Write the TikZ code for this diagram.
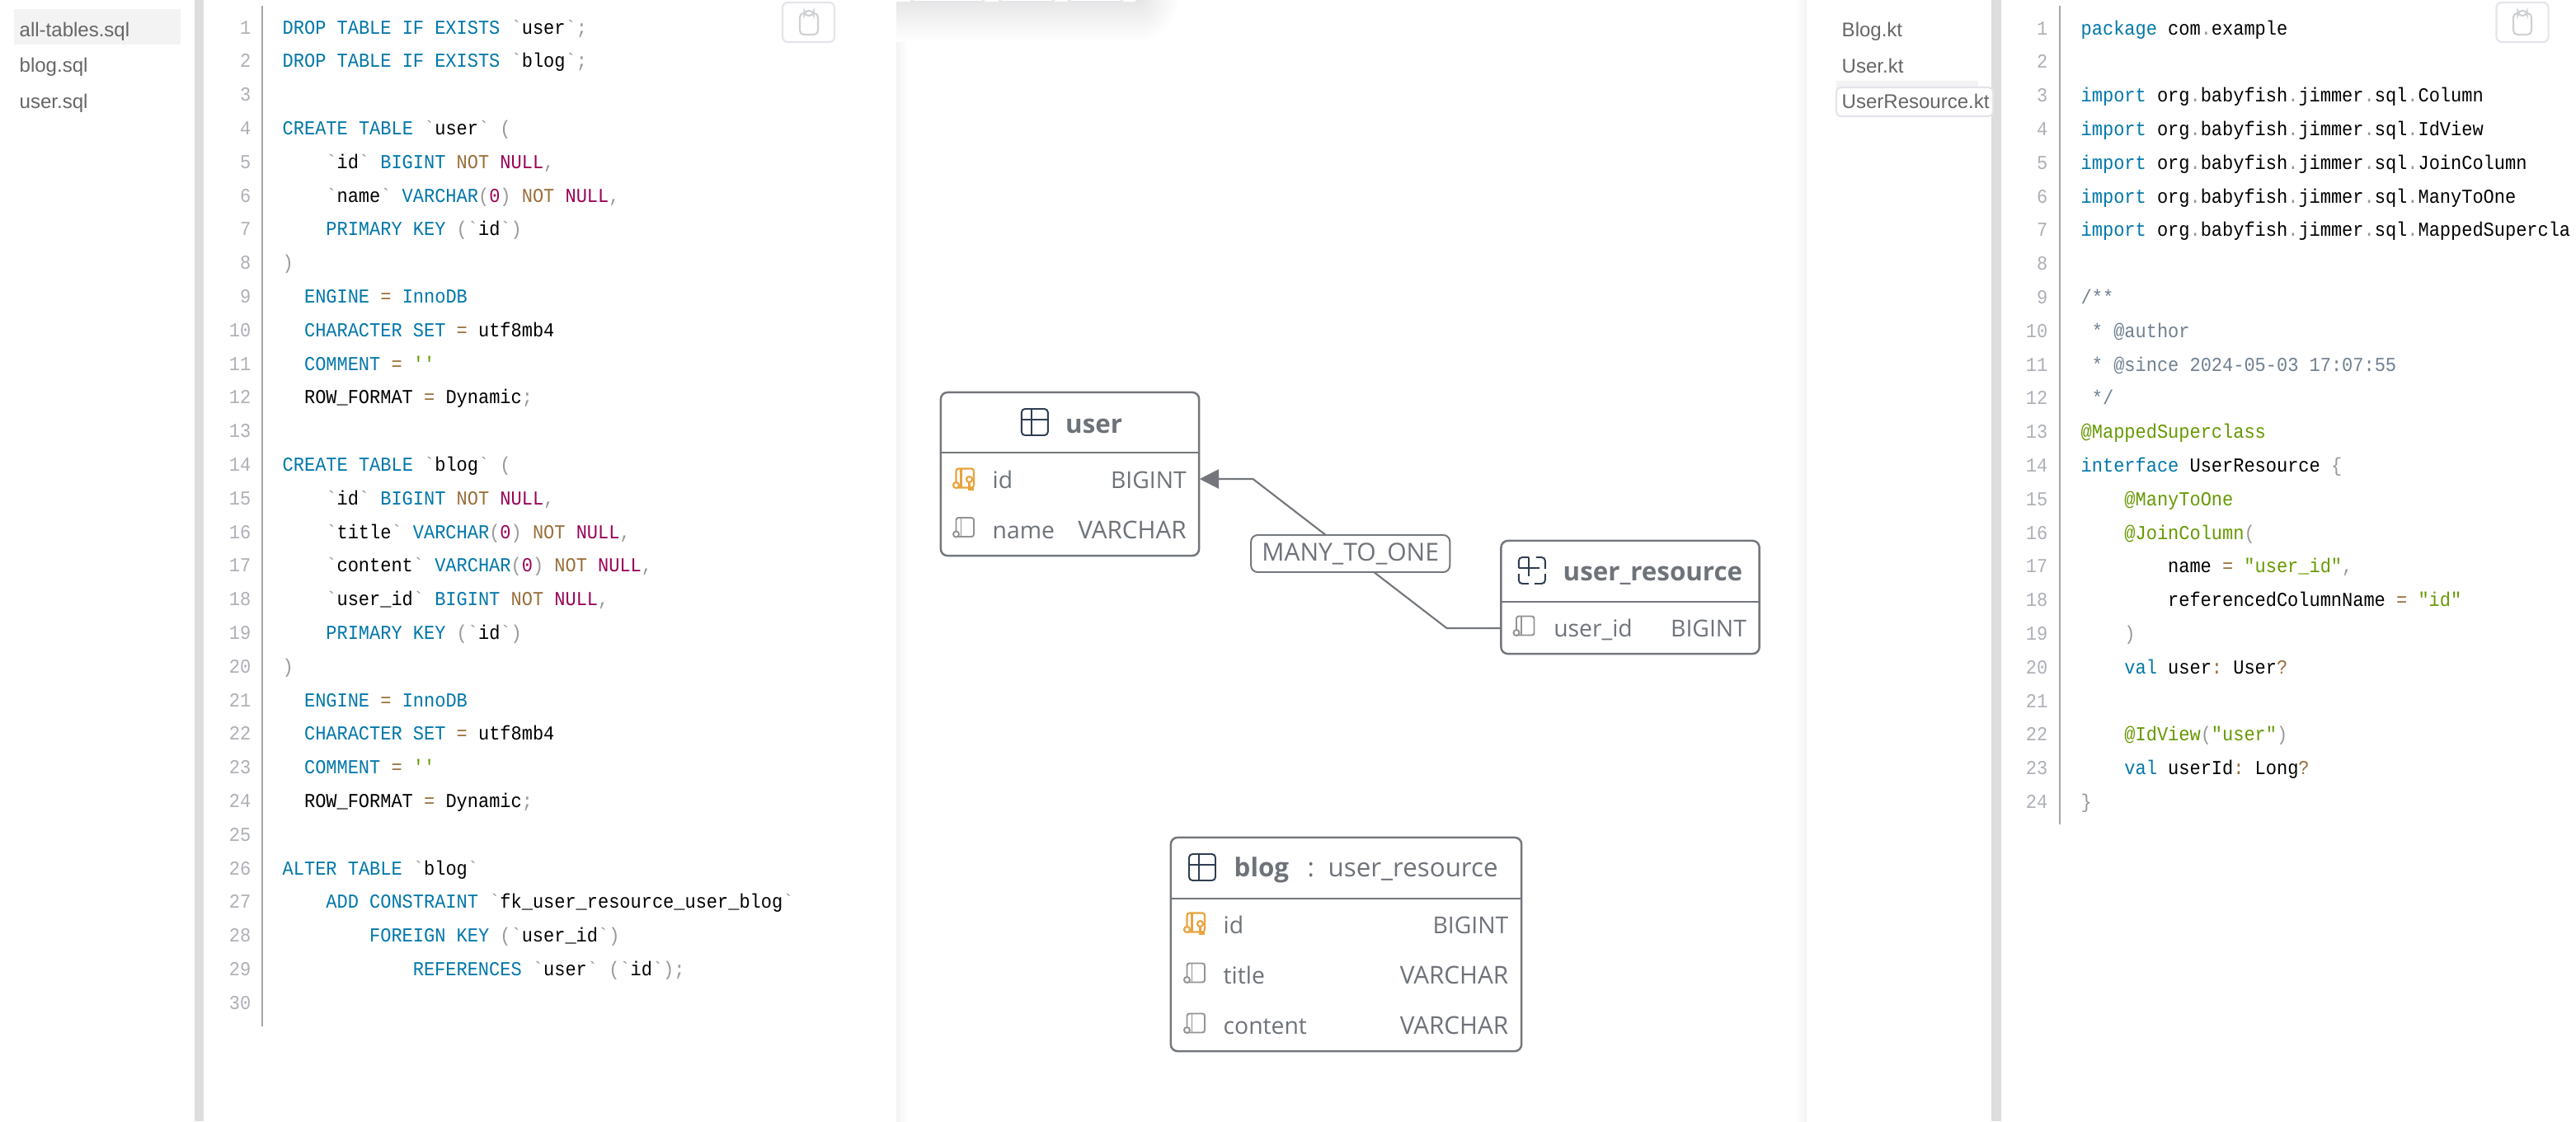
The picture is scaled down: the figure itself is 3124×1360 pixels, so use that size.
\documentclass[tikz,border=0pt]{standalone}
\usepackage{fontspec}
\usepackage{xcolor}
\usetikzlibrary{arrows.meta}
\setmainfont{Open Sans}
\newfontfamily\codefont[FakeStretch=0.915]{Liberation Mono}
\newfontfamily\navfont{Liberation Sans}

\definecolor{kwblue}{HTML}{0077AA}
\definecolor{opbrown}{HTML}{9A6E3A}
\definecolor{nullred}{HTML}{990055}
\definecolor{strgreen}{HTML}{669900}
\definecolor{punctgray}{HTML}{999999}
\definecolor{cmtgray}{HTML}{708090}
\definecolor{lnogray}{HTML}{AEB0B8}
\definecolor{guttergray}{HTML}{A4A6AE}
\definecolor{sepgray}{HTML}{DDDDDD}
\definecolor{panelgray}{HTML}{F3F3F3}
\definecolor{btngray}{HTML}{E4E5EA}
\definecolor{clipgray}{HTML}{CFD0D4}
\definecolor{navtext}{HTML}{666666}
\definecolor{tabletext}{HTML}{6E737A}
\definecolor{tableline}{HTML}{73777C}
\definecolor{iconnavy}{HTML}{2F3D52}
\definecolor{keyorange}{HTML}{E8A33D}

\newcommand{\ckw}[1]{\textcolor{kwblue}{#1}}
\newcommand{\cop}[1]{\textcolor{opbrown}{#1}}
\newcommand{\cnl}[1]{\textcolor{nullred}{#1}}
\newcommand{\cst}[1]{\textcolor{strgreen}{#1}}
\newcommand{\cpn}[1]{\textcolor{punctgray}{#1}}
\newcommand{\ccm}[1]{\textcolor{cmtgray}{#1}}
\newcommand{\bq}[1]{\cpn{`}#1\cpn{`}}
\newcommand{\dt}{\cpn{.}}
\newcommand{\sqlline}[3]{\node[codeline] (sql#1) at ({342+#2*13.18},{41+(#1-1)*40.8}) {#3};}
\newcommand{\ktline}[3]{\node[codeline] (kt#1) at ({2523+#2*13.18},{42+(#1-1)*40.8}) {#3};}

\tikzset{
  codeline/.style={anchor=base west,inner sep=0pt,font=\codefont\fontsize{6.83}{8}\selectfont\frenchspacing},
  lineno/.style={anchor=base east,inner sep=0pt,text=lnogray,font=\codefont\fontsize{6.83}{8}\selectfont},
  navitem/.style={anchor=base west,inner sep=0pt,text=navtext,font=\navfont\fontsize{6.83}{8}\selectfont},
  tablebox/.style={draw=tableline,line width=0.7pt,rounded corners=2.3pt,inner sep=0pt},
  tablerule/.style={draw=tableline,line width=0.7pt},
  tabletitle/.style={anchor=base west,inner sep=0pt,text=tabletext,font=\fontsize{8.9}{10}\selectfont},
  fieldname/.style={anchor=base west,inner sep=0pt,text=tabletext,font=\fontsize{8.05}{9}\selectfont},
  fieldtype/.style={anchor=base east,inner sep=0pt,text=tabletext,font=\fontsize{8.05}{9}\selectfont},
  widetype/.style={fieldtype,font=\fontsize{8.45}{9}\selectfont},
  rowbox/.style={inner sep=0pt,minimum height=0.3cm},
  rellabel/.style={draw=tableline,line width=0.55pt,fill=white,rounded corners=2.3pt,inner sep=0pt,text=tabletext,minimum width=2.41cm,minimum height=0.45cm,font=\fontsize{8.54}{10}\selectfont},
  relline/.style={draw=tableline,line width=0.6pt},
  copybtn/.style={draw=btngray,line width=0.6pt,rounded corners=1.8pt,inner sep=0pt,minimum width=0.63cm,minimum height=0.48cm},
  tableicon/.pic={
    \draw[iconnavy,line width=0.55pt,rounded corners=1.2pt] (-16,-16) rectangle (16,16);
    \draw[iconnavy,line width=0.55pt] (-16,-3) -- (16,-3) (-4,-16) -- (-4,16);
  },
  viewicon/.pic={
    \draw[iconnavy,line width=0.55pt,rounded corners=1.2pt] (-16,-3) -- (-16,-16) -- (-4,-16);
    \draw[iconnavy,line width=0.55pt,rounded corners=1.2pt] (5,-16) -- (16,-16) -- (16,-2);
    \draw[iconnavy,line width=0.55pt,rounded corners=1.2pt] (16,4) -- (16,16) -- (3,16);
    \draw[iconnavy,line width=0.55pt,rounded corners=1.2pt] (-4,16) -- (-16,16) -- (-16,4);
    \draw[iconnavy,line width=0.55pt] (-16,-3) -- (9,-3) (-4,-16) -- (-4,7);
  },
  fieldicon/.pic={
    \draw[gray!85,line width=0.55pt,rounded corners=0.8pt] (-9,-12) rectangle (12.5,11);
    \draw[gray!85,line width=0.55pt] (-3,-12) -- (-3,11);
    \draw[gray!85,line width=0.55pt,fill=white] (-9,8) circle (3.5);
  },
  keyicon/.pic={
    \draw[keyorange,line width=0.6pt,rounded corners=0.8pt] (-9,-12) rectangle (12.5,11);
    \draw[keyorange,line width=0.6pt] (-3,-12) -- (-3,11);
    \draw[keyorange,line width=0.6pt,fill=white] (-9,8) circle (3.5);
    \draw[keyorange,line width=0.6pt,fill=white] (7,1) circle (3.5);
    \draw[keyorange,line width=0.6pt] (7,4.5) -- (7,13) -- (12,13);
  },
  clipicon/.pic={
    \draw[clipgray,line width=0.6pt,rounded corners=1.4pt] (-11,-12) rectangle (11,14);
    \draw[clipgray,line width=0.6pt,fill=white,rounded corners=1.4pt] (-5.5,-15) rectangle (5.5,-9);
  }
}

\begin{document}
\begin{tikzpicture}[x=0.01cm,y=-0.01cm]
    \useasboundingbox (0,0) rectangle (3124,1360);
    \clip (0,0) rectangle (3124,1360);
    \fill[white] (0,0) rectangle (3124,1360);

    % panel separators and edges
    \fill[sepgray] (236,0) rectangle (247,1360);
    \fill[sepgray] (2415,0) rectangle (2427,1360);
    \shade[left color=panelgray,right color=white] (1087,0) rectangle (1100,1360);
    \shade[left color=white,right color=panelgray] (2178,0) rectangle (2191,1360);

    % shadow under the hidden toolbar
    \shade[top color=black!10,bottom color=white] (1087,0) rectangle (1380,50);
    \begin{scope}
        \clip (1380,0) rectangle (1430,50);
        \shade[inner color=black!10,outer color=white] (1380,0) circle (50);
    \end{scope}
    \fill[white] (1087,0) rectangle (1377,2);
    \draw[btngray,fill=white,line width=0.5pt,rounded corners=1.5pt] (1103,-10) rectangle (1195,2);
    \draw[btngray,fill=white,line width=0.5pt,rounded corners=1.5pt] (1210,-10) rectangle (1280,2);
    \draw[btngray,fill=white,line width=0.5pt,rounded corners=1.5pt] (1294,-10) rectangle (1363,2);

    % left file list
    \fill[panelgray] (17,11) rectangle (219,54);
    \node[navitem] (navall) at (23,44) {all-tables.sql};
    \node[navitem] (navblog) at (23,87) {blog.sql};
    \node[navitem] (navuser) at (23,131) {user.sql};

    % sql code
    \draw[guttergray,line width=0.55pt] (318,7) -- (318,1245);
    \foreach \n in {1,...,30}
        \node[lineno] (sqlno\n) at (305,{41+(\n-1)*40.8}) {\n};
    \sqlline{1}{0}{\ckw{DROP TABLE IF EXISTS} \bq{user}\cpn{;}}
    \sqlline{2}{0}{\ckw{DROP TABLE IF EXISTS} \bq{blog}\cpn{;}}
    \sqlline{4}{0}{\ckw{CREATE TABLE} \bq{user} \cpn{(}}
    \sqlline{5}{4}{\bq{id} \ckw{BIGINT} \cop{NOT} \cnl{NULL}\cpn{,}}
    \sqlline{6}{4}{\bq{name} \ckw{VARCHAR}\cpn{(}\cnl{0}\cpn{)} \cop{NOT} \cnl{NULL}\cpn{,}}
    \sqlline{7}{4}{\ckw{PRIMARY KEY} \cpn{(}\bq{id}\cpn{)}}
    \sqlline{8}{0}{\cpn{)}}
    \sqlline{9}{2}{\ckw{ENGINE} \cop{=} \ckw{InnoDB}}
    \sqlline{10}{2}{\ckw{CHARACTER SET} \cop{=} utf8mb4}
    \sqlline{11}{2}{\ckw{COMMENT} \cop{=} \cst{''}}
    \sqlline{12}{2}{ROW\_FORMAT \cop{=} Dynamic\cpn{;}}
    \sqlline{14}{0}{\ckw{CREATE TABLE} \bq{blog} \cpn{(}}
    \sqlline{15}{4}{\bq{id} \ckw{BIGINT} \cop{NOT} \cnl{NULL}\cpn{,}}
    \sqlline{16}{4}{\bq{title} \ckw{VARCHAR}\cpn{(}\cnl{0}\cpn{)} \cop{NOT} \cnl{NULL}\cpn{,}}
    \sqlline{17}{4}{\bq{content} \ckw{VARCHAR}\cpn{(}\cnl{0}\cpn{)} \cop{NOT} \cnl{NULL}\cpn{,}}
    \sqlline{18}{4}{\bq{user\_id} \ckw{BIGINT} \cop{NOT} \cnl{NULL}\cpn{,}}
    \sqlline{19}{4}{\ckw{PRIMARY KEY} \cpn{(}\bq{id}\cpn{)}}
    \sqlline{20}{0}{\cpn{)}}
    \sqlline{21}{2}{\ckw{ENGINE} \cop{=} \ckw{InnoDB}}
    \sqlline{22}{2}{\ckw{CHARACTER SET} \cop{=} utf8mb4}
    \sqlline{23}{2}{\ckw{COMMENT} \cop{=} \cst{''}}
    \sqlline{24}{2}{ROW\_FORMAT \cop{=} Dynamic\cpn{;}}
    \sqlline{26}{0}{\ckw{ALTER TABLE} \bq{blog}}
    \sqlline{27}{4}{\ckw{ADD CONSTRAINT} \bq{fk\_user\_resource\_user\_blog}}
    \sqlline{28}{8}{\ckw{FOREIGN KEY} \cpn{(}\bq{user\_id}\cpn{)}}
    \sqlline{29}{12}{\ckw{REFERENCES} \bq{user} \cpn{(}\bq{id}\cpn{)}\cpn{;}}
    \node[copybtn] (copysql) at (980.5,27) {};
    \pic at (981,28) {clipicon};

    % user table
    \node[tablebox,minimum width=3.13cm,minimum height=1.98cm] (userbox) at (1297.5,575) {};
    \draw[tablerule] (userbox.west |- 0,549) -- (userbox.east |- 0,549);
    \pic at (1254.8,512) {tableicon};
    \node[tabletitle] (usertitle) at (1291.5,525) {\textbf{user}};
    \node[rowbox,minimum width=3.13cm] (userrowid) at (1297.5,581) {};
    \pic at (1168.5,580.5) {keyicon};
    \node[fieldname] (useridname) at (1203,592) {id};
    \node[fieldtype] (useridtype) at (1439.5,592) {BIGINT};
    \pic at (1168.5,640) {fieldicon};
    \node[fieldname] (usernamename) at (1203,653) {name};
    \node[widetype] (usernametype) at (1439.5,653) {VARCHAR};

    % user_resource table
    \node[tablebox,minimum width=3.13cm,minimum height=1.37cm] (resbox) at (1977,724.5) {};
    \draw[tablerule] (resbox.west |- 0,730) -- (resbox.east |- 0,730);
    \pic at (1857.8,692) {viewicon};
    \node[tabletitle] (restitle) at (1895,704) {\textbf{user\_resource}};
    \node[rowbox,minimum width=3.13cm] (resrowuid) at (1977,762) {};
    \pic at (1848,759.5) {fieldicon};
    \node[fieldname] (resuidname) at (1883.6,772) {user\_id};
    \node[fieldtype] (resuidtype) at (2118.6,772) {BIGINT};

    % many to one
    \coordinate (bendres) at (1754.5,762);
    \coordinate (benduser) at (1519.5,581);
    \draw[relline,-{Triangle[length=6.6pt,width=6.6pt]}] (resrowuid.west) -- (bendres) -- (benduser) -- (userrowid.east);
    \node[rellabel] (manytoone) at (1637.7,671.5) {MANY\_TO\_ONE};

    % blog table
    \node[tablebox,minimum width=4.25cm,minimum height=2.59cm] (blogbox) at (1632.5,1145.5) {};
    \draw[tablerule] (blogbox.west |- 0,1090) -- (blogbox.east |- 0,1090);
    \pic at (1458,1052) {tableicon};
    \node[tabletitle] (blogtitle) at (1496,1063) {\textbf{blog}};
    \node[tabletitle] (blogcolon) at (1585,1063) {:};
    \node[tabletitle] (blogsuper) at (1610,1063) {user\_resource};
    \pic at (1448.5,1119.5) {keyicon};
    \node[fieldname] (blogidname) at (1483,1132) {id};
    \node[fieldtype] (blogidtype) at (1830,1132) {BIGINT};
    \pic at (1448.5,1180.5) {fieldicon};
    \node[fieldname] (blogtitlename) at (1483,1193) {title};
    \node[widetype] (blogtitletype) at (1830,1193) {VARCHAR};
    \pic at (1448.5,1241.5) {fieldicon};
    \node[fieldname] (blogcontentname) at (1483,1254) {content};
    \node[widetype] (blogcontenttype) at (1830,1254) {VARCHAR};

    % right file list
    \fill[panelgray] (2227,98) rectangle (2399,110);
    \draw[btngray,fill=white,line width=0.6pt,rounded corners=1.5pt] (2227,106) rectangle (2417,141);
    \node[navitem] (navblogkt) at (2233,44) {Blog.kt};
    \node[navitem] (navuserkt) at (2233,88) {User.kt};
    \node[navitem] (navreskt) at (2233,131) {UserResource.kt};

    % kotlin code
    \draw[guttergray,line width=0.55pt] (2498,7) -- (2498,1000);
    \foreach \n in {1,...,24}
        \node[lineno] (ktno\n) at (2484,{42+(\n-1)*40.8}) {\n};
    \ktline{1}{0}{\ckw{package} com\dt example}
    \ktline{3}{0}{\ckw{import} org\dt babyfish\dt jimmer\dt sql\dt Column}
    \ktline{4}{0}{\ckw{import} org\dt babyfish\dt jimmer\dt sql\dt IdView}
    \ktline{5}{0}{\ckw{import} org\dt babyfish\dt jimmer\dt sql\dt JoinColumn}
    \ktline{6}{0}{\ckw{import} org\dt babyfish\dt jimmer\dt sql\dt ManyToOne}
    \ktline{7}{0}{\ckw{import} org\dt babyfish\dt jimmer\dt sql\dt MappedSupercla}
    \ktline{9}{0}{\ccm{/**}}
    \ktline{10}{1}{\ccm{* @author}}
    \ktline{11}{1}{\ccm{* @since 2024-05-03 17:07:55}}
    \ktline{12}{1}{\ccm{*/}}
    \ktline{13}{0}{\cst{@MappedSuperclass}}
    \ktline{14}{0}{\ckw{interface} UserResource \cpn{\{}}
    \ktline{15}{4}{\cst{@ManyToOne}}
    \ktline{16}{4}{\cst{@JoinColumn}\cpn{(}}
    \ktline{17}{8}{name \cop{=} \cst{"user\_id"}\cpn{,}}
    \ktline{18}{8}{referencedColumnName \cop{=} \cst{"id"}}
    \ktline{19}{4}{\cpn{)}}
    \ktline{20}{4}{\ckw{val} user\cop{:} User\cop{?}}
    \ktline{22}{4}{\cst{@IdView}\cpn{(}\cst{"user"}\cpn{)}}
    \ktline{23}{4}{\ckw{val} userId\cop{:} Long\cop{?}}
    \ktline{24}{0}{\cpn{\}}}
    \node[copybtn] (copykt) at (3059,27) {};
    \pic at (3059,28) {clipicon};
\end{tikzpicture}
\end{document}
